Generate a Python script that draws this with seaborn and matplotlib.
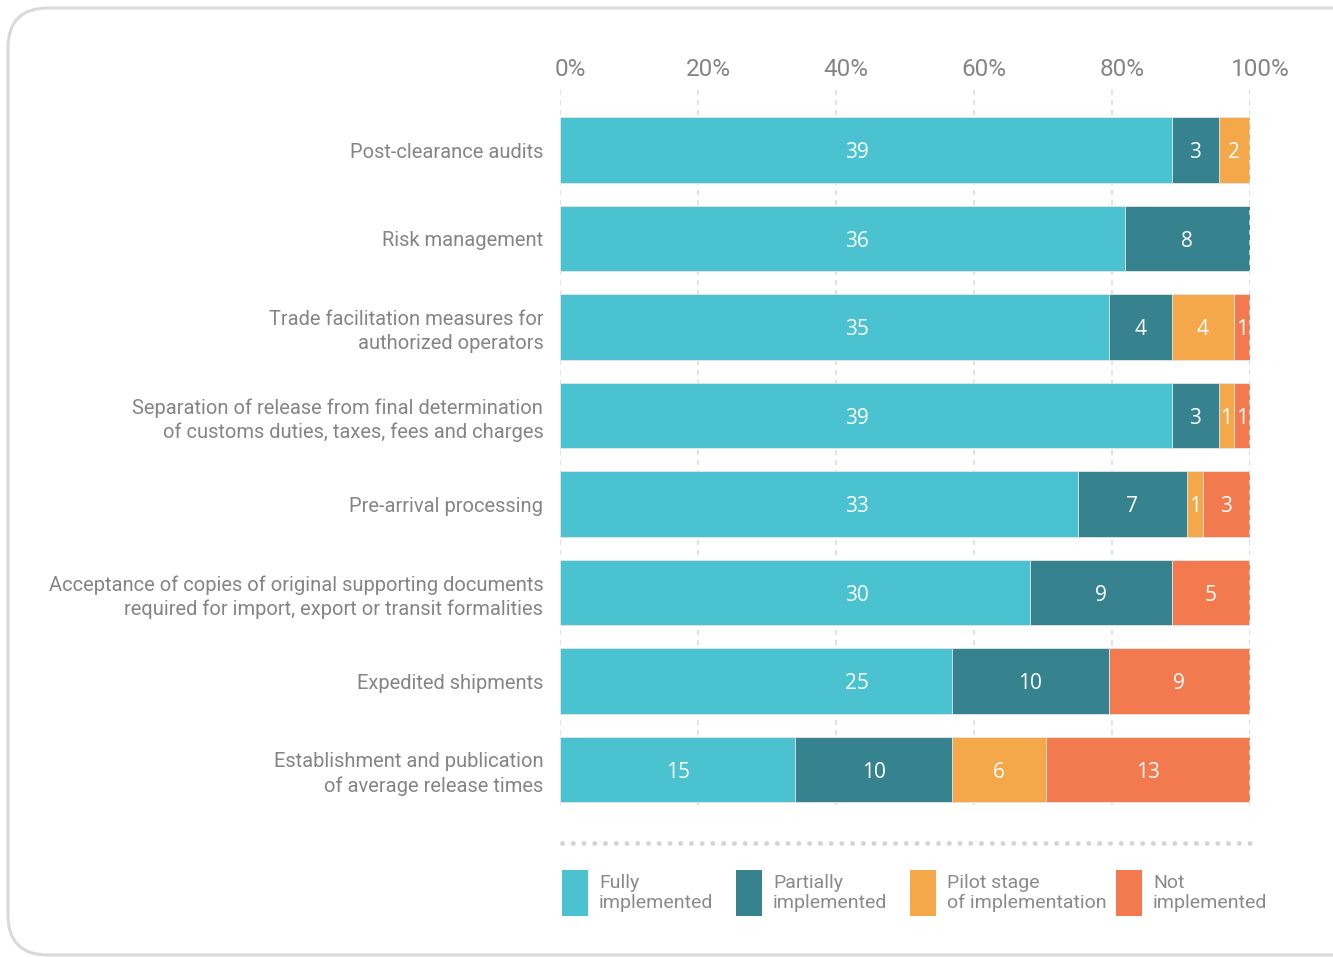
import numpy as np
import pandas as pd
import matplotlib.pyplot as plt
import seaborn as sns
import matplotlib.transforms as mtransforms
from matplotlib.patches import Rectangle, FancyBboxPatch
from matplotlib.lines import Line2D

# Data
measures = ['Post-clearance audits',
            'Risk management',
            'Trade facilitation measures for\nauthorized operators',
            'Separation of release from final determination\nof customs duties, taxes, fees and charges',
            'Pre-arrival processing',
            'Acceptance of copies of original supporting documents\nrequired for import, export or transit formalities',
            'Expedited shipments',
            'Establishment and publication\nof average release times']
fully = [39, 36, 35, 39, 33, 30, 25, 15]
partially = [3, 8, 4, 3, 7, 9, 10, 10]
pilot = [2, 0, 4, 1, 1, 0, 0, 6]
not_impl = [0, 0, 1, 1, 3, 5, 9, 13]
status = ['Fully\nimplemented', 'Partially\nimplemented', 'Pilot stage\nof implementation', 'Not\nimplemented']
colors = ['#4bc2d0', '#36838f', '#f4a84a', '#f27a4e']
ticks = [0, 20, 40, 60, 80, 100]

df = pd.DataFrame({'measure': measures, 'Fully': fully, 'Partially': partially,
                   'Pilot': pilot, 'Not': not_impl})
cols = ['Fully', 'Partially', 'Pilot', 'Not']
total = df[cols].sum(axis=1)
pct = df[cols].div(total, axis=0) * 100
cum = pct.cumsum(axis=1)
cum['measure'] = df['measure']

sns.set_theme(style='white')
plt.rcParams['font.family'] = ['Roboto', 'DejaVu Sans']
gray = '#858585'

fig = plt.figure(figsize=(13.33, 9.57), dpi=100)
ax = fig.add_axes([560 / 1333, 1 - 805 / 957, 690 / 1333, (805 - 90) / 957])

# vertical dashed grid
for g in ticks:
    ax.axvline(g, color='#dddddd', lw=1.2, ls=(0, (3, 3)), zorder=0)

# stacked bars drawn back to front
for i in range(3, -1, -1):
    sns.barplot(data=cum, x=cols[i], y='measure', orient='h', color=colors[i],
                saturation=1, width=0.74, linewidth=0.6, edgecolor='#e8e8e8',
                ax=ax, zorder=2)

# value labels
for r in range(len(measures)):
    left = 0
    for j, c in enumerate(cols):
        w = pct.loc[r, c]
        if df.loc[r, c] > 0:
            xpos = left + w / 2
            if j == 0 and w > 50:
                xpos = 43
            ax.text(xpos, r + 0.03, str(df.loc[r, c]), ha='center', va='center',
                    color='white', fontsize=15, family=['Open Sans', 'DejaVu Sans'], zorder=5)
        left += w

ax.axvline(100, color='#dddddd', lw=1.2, ls=(0, (3, 3)), zorder=4)
ax.set_xlim(0, 100)
ax.set_ylim(7.4, -0.68)

# percent labels on top, nudged right like the original
ax.set_xticks([])
shift = mtransforms.ScaledTranslation(10 / 100, 0, fig.dpi_scale_trans)
trans = mtransforms.blended_transform_factory(ax.transData, ax.transAxes) + shift
for v in ticks:
    ax.text(v, 1.0 + 21 / 715, f'{v}%', transform=trans, ha='center', va='center',
            fontsize=17.5, color=gray)

ax.tick_params(axis='y', length=0, pad=12, labelsize=14.5, labelcolor=gray)
for t in ax.get_yticklabels():
    t.set_ha('right')
    t.set_linespacing(1.3)
ax.set_xlabel('')
ax.set_ylabel('')
sns.despine(ax=ax, left=True, bottom=True, top=True, right=True)

# dotted separator
fig.add_artist(Line2D([562 / 1333, 1258 / 1333], [1 - 843 / 957] * 2, transform=fig.transFigure,
                      color='#d5d5d5', lw=3.5, ls=(0, (0.01, 2.2)), dash_capstyle='round'))

# legend
leg_x = [562, 736, 910, 1116]
for c, lab, lx in zip(colors, status, leg_x):
    fig.add_artist(Rectangle((lx / 1333, 1 - 916 / 957), 26 / 1333, 46 / 957,
                             transform=fig.transFigure, facecolor=c, edgecolor='none'))
    fig.text((lx + 37) / 1333, 1 - 874 / 957, lab, ha='left', va='top', fontsize=14,
             color='#8a8a8a', linespacing=1.12)

# rounded frame
fig.add_artist(FancyBboxPatch((8 / 1333, 2 / 957), 1.05, 1 - 10 / 957, transform=fig.transFigure,
                              boxstyle='round,pad=0,rounding_size=0.03', facecolor='none',
                              edgecolor='#d9d9d9', lw=2.2, mutation_aspect=1333 / 957))

fig.savefig('out.png', dpi=100)
